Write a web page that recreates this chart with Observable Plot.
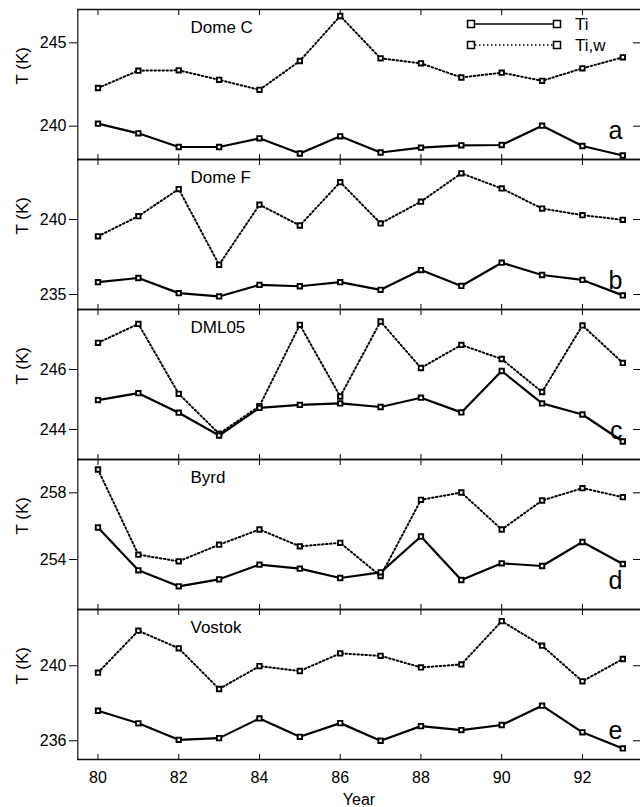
<!DOCTYPE html>
<html><head><meta charset="utf-8">
<script src="https://cdn.jsdelivr.net/npm/d3@7"></script>
<script src="https://cdn.jsdelivr.net/npm/@observablehq/plot@0.6"></script>
<style>
html,body{margin:0;padding:0;background:#fff;overflow:hidden;}
#chart{position:relative;width:640px;height:807px;}
#chart svg{position:absolute;left:0;}
</style></head><body><div id="chart"></div>
<script>
const years = [80,81,82,83,84,85,86,87,88,89,90,91,92,93];
const stations = ["Dome C","Dome F","DML05","Byrd","Vostok"];
const letters = ["a","b","c","d","e"];
const seriesNames = ["Ti","Ti,w"];

const tiDomeC  = [240.15,239.57,238.75,238.75,239.27,238.36,239.39,238.42,238.71,238.85,238.87,240.03,238.81,238.24];
const tiwDomeC = [242.29,243.33,243.35,242.78,242.18,243.91,246.61,244.07,243.77,242.92,243.21,242.72,243.47,244.13];
const tiDomeF  = [235.82,236.10,235.09,234.87,235.64,235.55,235.82,235.31,236.63,235.57,237.12,236.30,235.97,234.94];
const tiwDomeF = [238.88,240.22,242.03,236.98,240.99,239.60,242.49,239.74,241.19,243.08,242.07,240.73,240.29,239.98];
const tiDML05  = [244.98,245.21,244.56,243.80,244.72,244.82,244.87,244.75,245.06,244.57,245.95,244.87,244.50,243.60];
const tiwDML05 = [246.89,247.52,245.19,243.86,244.78,247.49,245.10,247.60,246.05,246.82,246.35,245.25,247.47,246.22];
const tiByrd   = [255.92,253.35,252.39,252.81,253.69,253.45,252.89,253.23,255.38,252.77,253.77,253.61,255.05,253.73];
const tiwByrd  = [259.40,254.29,253.89,254.89,255.80,254.79,255.00,253.01,257.58,258.02,255.80,257.54,258.28,257.74];
const tiVostok = [237.60,236.93,236.05,236.14,237.19,236.21,236.94,236.00,236.78,236.57,236.84,237.87,236.45,235.59];
const tiwVostok= [239.63,241.87,240.93,238.76,239.98,239.72,240.66,240.53,239.91,240.07,242.38,241.07,239.17,240.36];

const tiAll  = [tiDomeC, tiDomeF, tiDML05, tiByrd, tiVostok];
const tiwAll = [tiwDomeC, tiwDomeF, tiwDML05, tiwByrd, tiwVostok];

const yDomains = [[238,247],[234,244],[243,248],[251,260],[235,243]];
const yTicks   = [[240,245],[235,240],[244,246],[254,258],[236,240]];
const xDomain  = [79.5, 93.5];
const xTicks   = [80,82,84,86,88,90,92];

const font = "'Liberation Sans', Arial, Helvetica, sans-serif";
const panelH = 150, top0 = 9;
const dotted = "1.5,2.5";
const chart = document.getElementById("chart");

stations.forEach((name, i) => {
  const last = i === stations.length - 1;
  const ti = years.map((yr, j) => ({year: yr, T: tiAll[i][j], s: seriesNames[0]}));
  const tiw = years.map((yr, j) => ({year: yr, T: tiwAll[i][j], s: seriesNames[1]}));
  const marks = [
    Plot.ruleX([xDomain[0]], {stroke: "#111", strokeWidth: 1.2}),
    Plot.ruleY(yDomains[i], {stroke: "#111", strokeWidth: 1.3}),
    Plot.axisY({anchor: "left", ticks: yTicks[i], tickSize: 8, tickPadding: 3, label: null, tickFormat: d => d, fontSize: 16}),
    Plot.axisY({anchor: "right", ticks: yTicks[i], tickSize: -8, tickFormat: () => "", label: null}),
    Plot.axisX({anchor: "bottom", ticks: xTicks, tickSize: -5, tickFormat: () => "", label: null}),
    Plot.axisX({anchor: "top", ticks: xTicks, tickSize: -5, tickFormat: () => "", label: null}),
    Plot.line(tiw, {x: "year", y: "T", stroke: "#000", strokeWidth: 2, strokeDasharray: dotted}),
    Plot.line(ti, {x: "year", y: "T", stroke: "#000", strokeWidth: 2.2}),
    Plot.dot(tiw.concat(ti), {x: "year", y: "T", symbol: "square", r: 2.5, fill: "white", stroke: "#000", strokeWidth: 1.9}),
    Plot.text([name], {frameAnchor: "top-left", dx: 113, dy: 18, fontSize: 17, textAnchor: "start", lineAnchor: "middle"}),
    Plot.text([letters[i]], {frameAnchor: "top-right", dx: -18, dy: 121, fontSize: 25, lineAnchor: "middle"}),
    Plot.text(["T (K)"], {frameAnchor: "left", dx: -55, rotate: -90, fontSize: 17})
  ];
  if (last) {
    marks.push(Plot.axisX({anchor: "bottom", ticks: xTicks, tickSize: 0, tickPadding: 12, label: null, tickFormat: d => d, fontSize: 16}));
    marks.push(Plot.text(["Year"], {frameAnchor: "bottom", dy: 40, fontSize: 16, lineAnchor: "middle"}));
  }
  const svg = Plot.plot({
    width: 640,
    height: panelH + (last ? 48 : 0),
    marginLeft: 77, marginRight: 0, marginTop: 0, marginBottom: last ? 48 : 0,
    x: {domain: xDomain, range: [77.3, 642.5]},
    y: {domain: yDomains[i]},
    style: {fontFamily: font, fontSize: "16px", overflow: "visible", background: "transparent", color: "#000"},
    marks
  });
  svg.style.top = (top0 + i * panelH) + "px";
  chart.appendChild(svg);

  if (i === 0) {
    const g = d3.select(svg).append("g");
    const rows = [{label: seriesNames[0], y: 15, dash: null}, {label: seriesNames[1], y: 36, dash: dotted}];
    rows.forEach(r => {
      g.append("line").attr("x1", 471).attr("x2", 557).attr("y1", r.y).attr("y2", r.y)
        .attr("stroke", "#000").attr("stroke-width", r.dash ? 1.6 : 1.5).attr("stroke-dasharray", r.dash);
      [471, 557].forEach(x => g.append("rect").attr("x", x - 3.5).attr("y", r.y - 3.5).attr("width", 7).attr("height", 7)
        .attr("fill", "white").attr("stroke", "#000").attr("stroke-width", 1.5));
      g.append("text").attr("x", 575).attr("y", r.y).attr("dy", "0.35em").attr("font-size", 17)
        .attr("text-anchor", "start").attr("font-family", font).attr("fill", "#000").text(r.label);
    });
  }
});
</script></body></html>
